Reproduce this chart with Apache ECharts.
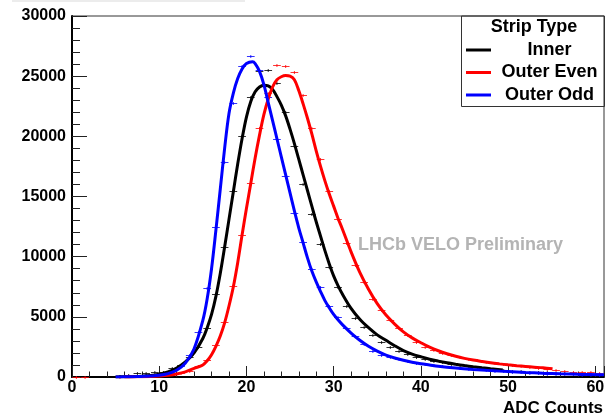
<!DOCTYPE html>
<html><head><meta charset="utf-8">
<script src="https://cdn.jsdelivr.net/npm/echarts@6/dist/echarts.min.js"></script>
<style>html,body{margin:0;padding:0;background:#fff}#c{width:608px;height:416px}</style>
</head><body><div id="c"></div><script>
// ---- data ----
const seriesNames = ['Inner', 'Outer Even', 'Outer Odd'];
const seriesColors = ['#000000', '#ff0000', '#0000ff'];
const xTicks = [0, 10, 20, 30, 40, 50, 60];
const yTicks = [0, 5000, 10000, 15000, 20000, 25000, 30000];

// histogram bin centres (bin width 1 ADC)
const binCenters = [0.5,1.5,2.5,3.5,4.5,5.5,6.5,7.5,8.5,9.5,10.5,11.5,12.5,13.5,14.5,15.5,16.5,17.5,18.5,19.5,20.5,21.5,22.5,23.5,24.5,25.5,26.5,27.5,28.5,29.5,30.5,31.5,32.5,33.5,34.5,35.5,36.5,37.5,38.5,39.5,40.5,41.5,42.5,43.5,44.5,45.5,46.5,47.5,48.5,49.5,50.5,51.5,52.5,53.5,54.5,55.5,56.5,57.5,58.5,59.5,60.5];
const innerCounts = [null,null,null,null,null,100,200,300,350,400,450,720,1000,1690,2520,4100,6870,10830,15480,20030,23290,25450,25510,24400,22050,19200,16010,13580,11030,9120,7450,5900,4880,4180,3490,2930,2520,2150,1900,1700,1530,1370,1220,1090,980,890,800,720,650,590,540,490,450,410,380,350,320,300,280,260,240];
const evenCounts = [0,0,null,null,null,30,60,90,120,160,200,260,350,520,914,1413,2660,4545,7560,11800,16100,20670,23600,25930,25850,25370,23430,20670,18090,15480,13150,11140,9280,7920,6460,5540,4740,4050,3490,2930,2520,2280,2030,1820,1650,1510,1380,1270,1160,1050,980,910,850,760,680,600,500,450,420,390,360];
const oddCounts = [null,null,null,null,null,50,80,100,130,180,280,480,900,1800,3765,7370,12450,17840,22790,25870,26670,25510,23290,19800,16730,13670,11200,8970,7500,5900,4950,4100,3370,2740,2180,1850,1640,1470,1330,1200,1080,980,900,830,760,700,640,590,530,480,440,400,360,320,290,260,240,220,200,180,170];

// fitted curves
const innerFitX = [5,6,7,8,9,10,11,12,13,14,15,15.5,16,16.5,17,17.5,18,18.5,19,19.5,20,20.5,21,21.5,22,22.5,23,23.5,24,24.5,25,25.5,26,26.5,27,27.5,28,28.5,29,29.5,30,30.5,31,32,33,34,35,36,37,38,39,40,41,42,43,44,45,46,47,48,49.4];
const innerFitY = [0,20,40,70,120,230,420,750,1250,2000,3200,4100,5200,6700,8600,10800,13100,15400,17700,19800,21600,22900,23700,24100,24250,24200,23900,23300,22600,21700,20600,19400,18100,16800,15500,14200,12900,11700,10500,9400,8400,7600,6900,5700,4800,4100,3500,3050,2600,2200,1900,1680,1480,1320,1180,1060,950,850,760,680,590];
const evenFitX = [6,7,8,9,10,11,12,13,14,15,15.5,16,16.5,17,17.5,18,18.5,19,19.5,20,20.5,21,21.5,22,22.5,23,23.5,24,24.5,25,25.5,26,26.5,27,27.5,28,28.5,29,29.5,30,30.5,31,32,33,34,35,36,37,38,39,40,41,42,43,44,45,46,47,48,49,50,51,52,53,54,55.1];
const evenFitY = [0,8,20,40,80,140,250,430,720,1000,1350,1850,2550,3400,4500,5900,7500,9500,11800,14000,16100,18200,20100,21800,23100,24100,24700,24950,25050,25000,24700,23800,22700,21500,20200,18800,17500,16300,15200,14200,13200,12300,10400,8700,7300,6100,5150,4400,3750,3250,2850,2480,2180,1930,1720,1550,1410,1290,1180,1090,1010,940,880,820,760,680];
const oddFitX = [5,6,7,8,9,10,11,12,13,14,15,15.5,16,16.5,17,17.5,18,18.5,19,19.5,20,20.7,21,21.5,22,22.5,23,23.5,24,24.5,25,25.5,26,26.5,27,27.5,28,28.5,29,29.5,30,30.5,31,32,33,34,35,36,37,38,39,40,41,42,44,46,48,50,52,54,56,58,61];
const oddFitY = [0,15,30,50,80,140,280,560,1150,2350,4700,6500,9000,12200,15600,19000,21900,23600,24800,25600,26050,26200,26050,25400,24300,22800,21300,19800,18300,16800,15300,13800,12400,11150,9900,8800,7900,7100,6350,5750,5200,4750,4350,3650,3050,2550,2150,1820,1580,1390,1230,1100,1000,900,750,630,530,450,380,320,270,230,180];

// ---- chart ----
const FONT = '"Liberation Sans", Arial, Helvetica, sans-serif';
const chart = echarts.init(document.getElementById('c'), null, {renderer: 'canvas'});

function zip(xs, ys) { return xs.map((x, i) => [x, ys[i]]); }

function fitSeries(name, xs, ys, color) {
  return {
    name: name, type: 'line', data: zip(xs, ys), smooth: 0.35,
    showSymbol: false, symbol: 'none', z: 5,
    lineStyle: {color: color, width: 3}, itemStyle: {color: color},
    silent: true
  };
}

function markerSeries(name, counts, color) {
  const data = [];
  binCenters.forEach((x, i) => { if (counts[i] != null) data.push([x, counts[i]]); });
  return {
    name: name + ' data', type: 'custom', data: data, z: 3, silent: true,
    encode: {x: 0, y: 1},
    renderItem: function (params, api) {
      const x = api.value(0), y = api.value(1);
      const a = api.coord([x - 0.5, y]);
      const b = api.coord([x + 0.5, y]);
      const c = api.coord([x, y]);
      const yy = Math.round(c[1]) + 0.5;
      return {
        type: 'group', children: [
          {type: 'line', shape: {x1: a[0] + 0.5, y1: yy, x2: b[0] - 0.5, y2: yy}, style: {stroke: color, lineWidth: 1, opacity: 0.8}},
          {type: 'line', shape: {x1: c[0], y1: yy - 1.5, x2: c[0], y2: yy + 1.5}, style: {stroke: color, lineWidth: 1, opacity: 0.8}}
        ]
      };
    }
  };
}

const option = {
  animation: false,
  backgroundColor: '#ffffff',
  grid: {left: 72, right: 4, top: 16, bottom: 39, show: true, borderColor: '#333', borderWidth: 1, containLabel: false},
  xAxis: {
    type: 'value', min: xTicks[0], max: 61, interval: 10,
    axisLine: {show: true, lineStyle: {color: '#000', width: 2}},
    axisTick: {show: true, inside: true, length: 11, lineStyle: {color: '#222', width: 1}},
    minorTick: {show: true, splitNumber: 5, length: 5.5, lineStyle: {color: '#222', width: 1}},
    splitLine: {show: false},
    axisLabel: {margin: 3, color: '#000', fontFamily: FONT, fontWeight: 'bold', fontSize: 16,
      formatter: v => (xTicks.indexOf(v) >= 0 ? String(v) : '')}
  },
  yAxis: {
    type: 'value', min: yTicks[0], max: yTicks[yTicks.length - 1], interval: 5000,
    axisLine: {show: true, lineStyle: {color: '#000', width: 2}},
    axisTick: {show: true, inside: true, length: 15, lineStyle: {color: '#222', width: 1}},
    minorTick: {show: true, splitNumber: 5, length: 8, lineStyle: {color: '#222', width: 1}},
    splitLine: {show: false},
    axisLabel: {margin: 6, color: '#000', fontFamily: FONT, fontWeight: 'bold', fontSize: 16,
      formatter: v => (yTicks.indexOf(v) >= 0 ? String(v) : '')}
  },
  legend: {
    data: seriesNames, orient: 'vertical', left: 466, top: 38.75, padding: 0, itemGap: 0,
    itemWidth: 25, itemHeight: 3, icon: 'rect', selectedMode: false,
    formatter: name => '{t|' + name + '}',
    textStyle: {
      color: '#000', fontFamily: FONT, fontWeight: 'bold', fontSize: 18, lineHeight: 22.5,
      rich: {t: {width: 107, align: 'center', color: '#000', fontFamily: FONT, fontWeight: 'bold', fontSize: 18, lineHeight: 22.5}}
    }
  },
  graphic: [
    {type: 'rect', left: 12, top: 0, shape: {width: 233, height: 2}, style: {fill: '#ececec'}, silent: true},
    {type: 'rect', shape: {x: 461.5, y: 16, width: 143, height: 90.5}, style: {fill: 'rgba(255,255,255,0)', stroke: '#333', lineWidth: 1}, silent: true, z: 10},
    {type: 'text', x: 534, y: 27, style: {text: 'Strip Type', fill: '#000', font: 'bold 18px ' + FONT, textAlign: 'center', textVerticalAlign: 'middle'}, z: 10},
    {type: 'text', x: 358, y: 245, style: {text: 'LHCb VELO Preliminary', fill: '#b4b4b4', font: 'bold 18px ' + FONT, textAlign: 'left', textVerticalAlign: 'middle'}, z: 10},
    {type: 'text', x: 603, y: 408, style: {text: 'ADC Counts', fill: '#000', font: 'bold 17px ' + FONT, textAlign: 'right', textVerticalAlign: 'middle'}, z: 10}
  ],
  series: [
    markerSeries(seriesNames[0], innerCounts, seriesColors[0]),
    markerSeries(seriesNames[1], evenCounts, seriesColors[1]),
    markerSeries(seriesNames[2], oddCounts, seriesColors[2]),
    fitSeries(seriesNames[0], innerFitX, innerFitY, seriesColors[0]),
    fitSeries(seriesNames[1], evenFitX, evenFitY, seriesColors[1]),
    fitSeries(seriesNames[2], oddFitX, oddFitY, seriesColors[2])
  ]
};
chart.setOption(option);
</script></body></html>
